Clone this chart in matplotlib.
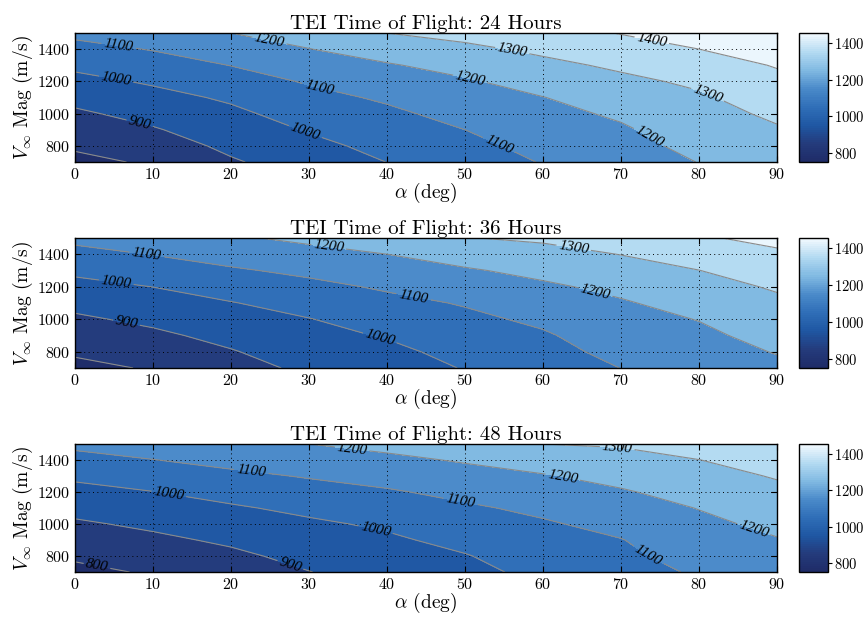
import matplotlib
matplotlib.use('Agg')
import matplotlib.pyplot as plt
import numpy as np
from matplotlib.colors import LinearSegmentedColormap, Normalize
import matplotlib.cm as cm

plt.rcParams['font.family'] = 'serif'
plt.rcParams['font.serif'] = ['cmr10']
plt.rcParams['mathtext.fontset'] = 'cm'
plt.rcParams['axes.formatter.use_mathtext'] = True

# grid the TOF values were read on
alpha = [0, 10, 20, 30, 40, 50, 60, 70, 80, 90]
vinf = [700, 800, 900, 1000, 1100, 1200, 1300, 1400, 1500]

# one row per alpha, values for vinf 700..1500
tof24 = [
    [765, 818, 850, 885, 927, 972, 1020, 1071, 1121],
    [818, 855, 892, 931, 970, 1012, 1058, 1105, 1155],
    [890, 920, 950, 980, 1014, 1058, 1102, 1151, 1200],
    [945, 974, 1007, 1040, 1073, 1109, 1153, 1198, 1243],
    [1001, 1028, 1055, 1082, 1113, 1152, 1192, 1244, 1300],
    [1050, 1075, 1100, 1130, 1160, 1190, 1232, 1280, 1329],
    [1105, 1128, 1151, 1175, 1198, 1237, 1277, 1319, 1364],
    [1155, 1172, 1189, 1213, 1246, 1279, 1316, 1360, 1404],
    [1202, 1223, 1245, 1266, 1287, 1317, 1358, 1400, 1445],
    [1252, 1272, 1291, 1317, 1346, 1377, 1406, 1430, 1455],
]
tof36 = [
    [765, 818, 849, 885, 926, 971, 1019, 1071, 1123],
    [812, 847, 882, 920, 960, 1001, 1052, 1103, 1153],
    [864, 894, 927, 962, 996, 1042, 1089, 1138, 1188],
    [920, 946, 972, 997, 1036, 1076, 1120, 1170, 1220],
    [955, 977, 1007, 1041, 1075, 1112, 1156, 1200, 1250],
    [1005, 1030, 1055, 1080, 1107, 1149, 1190, 1242, 1297],
    [1055, 1073, 1090, 1117, 1151, 1185, 1225, 1270, 1314],
    [1101, 1123, 1146, 1168, 1191, 1223, 1263, 1302, 1345],
    [1140, 1161, 1181, 1203, 1235, 1267, 1299, 1344, 1390],
    [1180, 1205, 1231, 1256, 1282, 1310, 1348, 1385, 1424],
]
tof48 = [
    [765, 820, 851, 887, 927, 971, 1017, 1068, 1122],
    [815, 848, 881, 917, 957, 998, 1048, 1098, 1150],
    [849, 881, 915, 952, 989, 1032, 1079, 1128, 1178],
    [898, 927, 956, 985, 1021, 1064, 1107, 1153, 1200],
    [940, 963, 985, 1014, 1052, 1090, 1134, 1179, 1227],
    [975, 995, 1026, 1056, 1087, 1124, 1166, 1209, 1258],
    [1024, 1046, 1068, 1090, 1119, 1156, 1193, 1244, 1300],
    [1067, 1082, 1097, 1126, 1158, 1191, 1229, 1269, 1309],
    [1110, 1133, 1156, 1179, 1203, 1235, 1267, 1299, 1340],
    [1155, 1175, 1195, 1221, 1250, 1278, 1307, 1337, 1367],
]
hours = [24, 36, 48]

levels = [800, 900, 1000, 1100, 1200, 1300, 1400]

# where the labels sit in the reference (alpha, vinf)
lab24 = [(5.6, 1420), (5.3, 1223), (8.3, 942), (24.9, 1446), (31.4, 1181),
         (29.7, 910), (56, 1375), (73.9, 1442), (50.6, 1202), (81, 1108),
         (54.5, 827), (73.5, 848)]
lab36 = [(9.2, 1398), (5.3, 1227), (6.6, 977), (32.5, 1438), (43.4, 1138),
         (39.1, 891), (63.9, 1428), (66.8, 1179)]
lab48 = [(2.8, 733), (27.6, 743), (12, 1178), (22.6, 1331), (35.5, 1461),
         (38.5, 953), (69.5, 1457), (62.5, 1289), (49.4, 1131), (87, 964),
         (73.4, 796)]

cmap = LinearSegmentedColormap.from_list('tof', [
    (0.00, '#1f2c68'),
    (0.14, '#243b7c'),
    (0.28, '#1f57a3'),
    (0.43, '#306fb8'),
    (0.57, '#4b8bca'),
    (0.71, '#80b9e2'),
    (0.85, '#b1d9f1'),
    (1.00, '#f2f9fe'),
]).resampled(64)
norm = Normalize(750, 1455)

fig = plt.figure(figsize=(8.68, 6.2), dpi=100)
bottoms = [0.7387, 0.4065, 0.0774]
heights = [0.2081, 0.2097, 0.2065]

A, V = np.meshgrid(alpha, vinf)
for i, (tof, labs) in enumerate(zip([tof24, tof36, tof48], [lab24, lab36, lab48])):
    Z = np.array(tof).T
    ax = fig.add_axes([0.0864, bottoms[i], 0.8088, heights[i]])
    fl = [740] + levels + [1470]
    ax.contourf(A, V, Z, levels=fl, cmap=cmap, norm=norm)
    cs = ax.contour(A, V, Z, levels=levels, colors='#8a8a8a', linewidths=0.8)
    txts = ax.clabel(cs, fmt='%d', inline=True, fontsize=11, colors='k',
                     manual=labs, inline_spacing=2)
    for t in txts:
        t.set_fontfamily('Liberation Serif')
        t.set_fontstyle('italic')
    ax.set_xlim(0, 90)
    ax.set_ylim(700, 1500)
    ax.set_xticks(range(0, 91, 10))
    ax.set_yticks([800, 1000, 1200, 1400])
    ax.grid(True, color='k', linestyle=(0, (1, 3.5)), linewidth=0.7)
    ax.tick_params(direction='in', top=True, right=True, length=4, labelsize=11.5)
    for s in ax.spines.values():
        s.set_linewidth(1.0)
    ax.set_title('TEI Time of Flight: %d Hours' % hours[i], fontsize=15, pad=3)
    ax.set_xlabel(r'$\alpha$ (deg)', fontsize=14, labelpad=-1)
    ax.set_ylabel(r'$V_\infty$ Mag (m/s)', fontsize=14, labelpad=1)

    cax = fig.add_axes([0.9205, bottoms[i], 0.0334, heights[i]])
    sm = cm.ScalarMappable(norm=norm, cmap=cmap)
    cb = fig.colorbar(sm, cax=cax, ticks=[800, 1000, 1200, 1400])
    cb.outline.set_linewidth(1.0)
    cax.tick_params(labelsize=10.5, length=3, pad=1.5)

fig.savefig('out.png', dpi=100)
